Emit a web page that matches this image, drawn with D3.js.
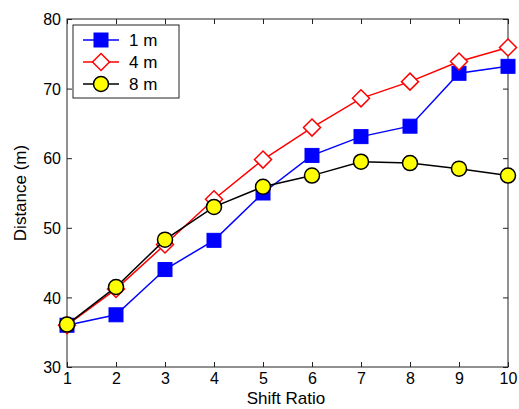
<!DOCTYPE html>
<html><head><meta charset="utf-8">
<script src="https://cdn.jsdelivr.net/npm/d3@7"></script>
<style>body{margin:0;background:#fff}svg{display:block}text{font-family:Arial,"Liberation Sans",sans-serif;fill:#000}</style>
</head><body>
<svg id="c" width="519" height="409"></svg>
<script>
const shiftRatio = [1,2,3,4,5,6,7,8,9,10];
const dist1m = [36.0,37.5,44.0,48.2,55.0,60.4,63.1,64.6,72.2,73.2];
const dist4m = [36.0,41.2,47.6,54.1,59.8,64.4,68.6,71.0,73.9,75.9];
const dist8m = [36.1,41.5,48.3,53.0,55.9,57.5,59.5,59.3,58.5,57.5];
const seriesNames = ["1 m","4 m","8 m"];
const xTicks = [1,2,3,4,5,6,7,8,9,10];
const yTicks = [30,40,50,60,70,80];

const svg = d3.select("#c");
const L=67,R=508,T=19,B=367;
const x = d3.scaleLinear().domain([1,10]).range([L,R]);
const y = d3.scaleLinear().domain([30,80]).range([B,T]);

const series = [
  {name:seriesNames[0], vals:dist1m, color:"#0000ff", marker:"square"},
  {name:seriesNames[1], vals:dist4m, color:"#ff0000", marker:"diamond"},
  {name:seriesNames[2], vals:dist8m, color:"#000000", marker:"circle"}
];

function drawMarker(g, type, cx, cy){
  if(type==="square"){
    g.append("rect").attr("x",cx-7).attr("y",cy-7).attr("width",14).attr("height",14)
      .attr("fill","#0000ff").attr("stroke","#0000ff").attr("stroke-width",1);
  } else if(type==="diamond"){
    const s=8.5;
    g.append("path").attr("d",`M${cx},${cy-s}L${cx+s},${cy}L${cx},${cy+s}L${cx-s},${cy}Z`)
      .attr("fill","#fff").attr("stroke","#ff0000").attr("stroke-width",1.5);
  } else {
    g.append("circle").attr("cx",cx).attr("cy",cy).attr("r",7.5)
      .attr("fill","#ffff00").attr("stroke","#000").attr("stroke-width",1.5);
  }
}

// axes box
const axG = svg.append("g");
axG.append("rect").attr("x",L).attr("y",T).attr("width",R-L).attr("height",B-T)
  .attr("fill","none").attr("stroke","#222").attr("stroke-width",1);

// axes (ticks inside)
const xAxis = svg.append("g").attr("transform",`translate(0,${B})`)
  .call(d3.axisBottom(x).tickValues(xTicks).tickSize(-5).tickPadding(6).tickFormat(d3.format("d")));
const yAxis = svg.append("g").attr("transform",`translate(${L},0)`)
  .call(d3.axisLeft(y).tickValues(yTicks).tickSize(-5).tickPadding(6).tickFormat(d3.format("d")));
const xTop = svg.append("g").attr("transform",`translate(0,${T})`)
  .call(d3.axisTop(x).tickValues(xTicks).tickSize(-5).tickFormat(""));
const yRight = svg.append("g").attr("transform",`translate(${R},0)`)
  .call(d3.axisRight(y).tickValues(yTicks).tickSize(-5).tickFormat(""));
[xAxis,yAxis,xTop,yRight].forEach(a=>{
  a.select(".domain").remove();
  a.selectAll("line").attr("stroke","#222");
  a.selectAll("text").attr("font-size",16).attr("font-family","Arial,'Liberation Sans',sans-serif").attr("fill","#000");
});
xAxis.selectAll("text").attr("dy","0.71em");
yAxis.selectAll("text").attr("dy","0.36em");

// lines and markers
const line = d3.line().x((d,i)=>x(shiftRatio[i])).y(d=>y(d));
series.forEach(s=>{
  const g = svg.append("g");
  g.append("path").attr("d",line(s.vals)).attr("fill","none").attr("stroke",s.color).attr("stroke-width",1.5);
  s.vals.forEach((v,i)=>drawMarker(g,s.marker,x(shiftRatio[i]),y(v)));
});

// axis labels
svg.append("text").attr("x",286).attr("y",404).attr("text-anchor","middle").attr("font-size",17).text("Shift Ratio");
svg.append("text").attr("transform","translate(26,193) rotate(-90)").attr("text-anchor","middle").attr("font-size",17).text("Distance (m)");

// legend
const lg = svg.append("g");
lg.append("rect").attr("x",73).attr("y",25).attr("width",106).attr("height",73)
  .attr("fill","#fff").attr("stroke","#222").attr("stroke-width",1);
series.forEach((s,i)=>{
  const cy = 40 + i*22;
  lg.append("line").attr("x1",83).attr("x2",119).attr("y1",cy).attr("y2",cy).attr("stroke",s.color).attr("stroke-width",1.5);
  drawMarker(lg,s.marker,101,cy);
  lg.append("text").attr("x",129).attr("y",cy+6).attr("font-size",17).text(s.name);
});
</script>
</body></html>
